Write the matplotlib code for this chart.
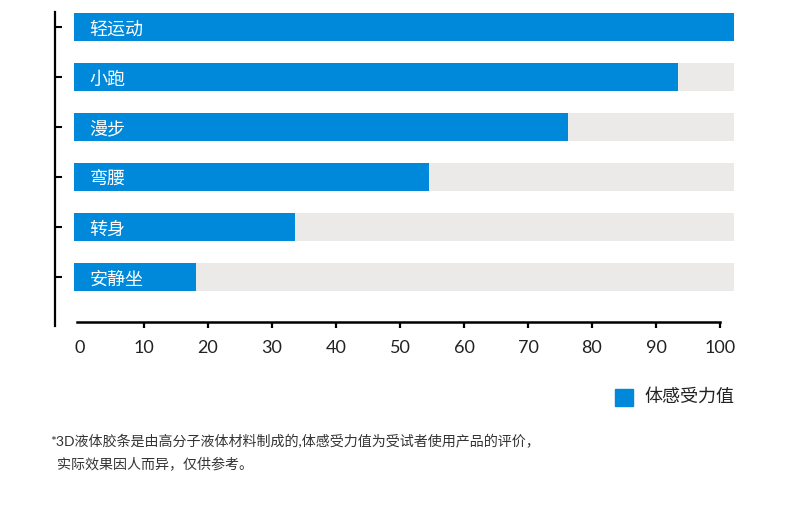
import matplotlib
matplotlib.use("Agg")
import matplotlib.pyplot as plt
from matplotlib.patches import Rectangle

plt.rcParams['font.family'] = ['Lato', 'Noto Sans CJK SC', 'DejaVu Sans']

categories = ["轻运动", "小跑", "漫步", "弯腰", "转身", "安静坐"]
values = [102.2, 93.4, 76.3, 54.6, 33.6, 18.2]
track_start = -0.9
track_end = 102.2
xticks = [0, 10, 20, 30, 40, 50, 60, 70, 80, 90, 100]
legend_label = "体感受力值"
footnote1 = "*3D液体胶条是由高分子液体材料制成的,体感受力值为受试者使用产品的评价，"
footnote2 = "实际效果因人而异，仅供参考。"

BLUE = "#0089DB"
GRAY = "#EBEAE8"

W, H = 790, 523
fig = plt.figure(figsize=(W / 100, H / 100), dpi=100)
ax = fig.add_axes([55 / W, 197 / H, 684.2 / W, 314 / H])

ypos = list(range(len(categories)))
ax.barh(ypos, [track_end - track_start] * len(categories), left=track_start,
        height=0.56, color=GRAY, zorder=1)
ax.barh(ypos, [v - track_start for v in values], left=track_start,
        height=0.56, color=BLUE, zorder=2)
for y, c in zip(ypos, categories):
    ax.text(1.5, y + 0.06, c, color="white", fontsize=13, va="center", ha="left",
            family=['Noto Sans CJK SC', 'DejaVu Sans'], zorder=3)

ax.set_xlim(-3.9, 103)
ax.set_ylim(5.98, -0.3)

for s in ["top", "right"]:
    ax.spines[s].set_visible(False)
ax.spines["left"].set_linewidth(1.6)
ax.spines["bottom"].set_linewidth(1.8)
ax.spines["bottom"].set_position(("axes", 0.0127))
ax.spines["bottom"].set_bounds(-0.5, 100)

ax.set_yticks(ypos)
ax.set_yticklabels([])
ax.tick_params(axis="y", direction="in", length=5, width=1.5, color="black")
ax.set_xticks(xticks)
ax.set_xticklabels([str(t) for t in xticks])
ax.tick_params(axis="x", direction="out", length=4, width=1.6, pad=9,
               labelsize=13, labelcolor="#222222")
ax.xaxis.get_major_ticks()[0].tick1line.set_visible(False)

# legend
fig.patches.append(Rectangle((615 / W, 1 - 406 / H), 18 / W, 17 / H,
                             transform=fig.transFigure, color=BLUE))
fig.text(644 / W, 1 - 397 / H, legend_label, fontsize=13, va="center", ha="left",
         color="#222222", family=['Noto Sans CJK SC', 'DejaVu Sans'])

fig.text(50 / W, 1 - 441 / H, footnote1, fontsize=10.1, va="center", ha="left",
         color="#333333")
fig.text(57 / W, 1 - 463 / H, footnote2, fontsize=10.1, va="center", ha="left",
         color="#333333")

fig.savefig("out.png", dpi=100)
